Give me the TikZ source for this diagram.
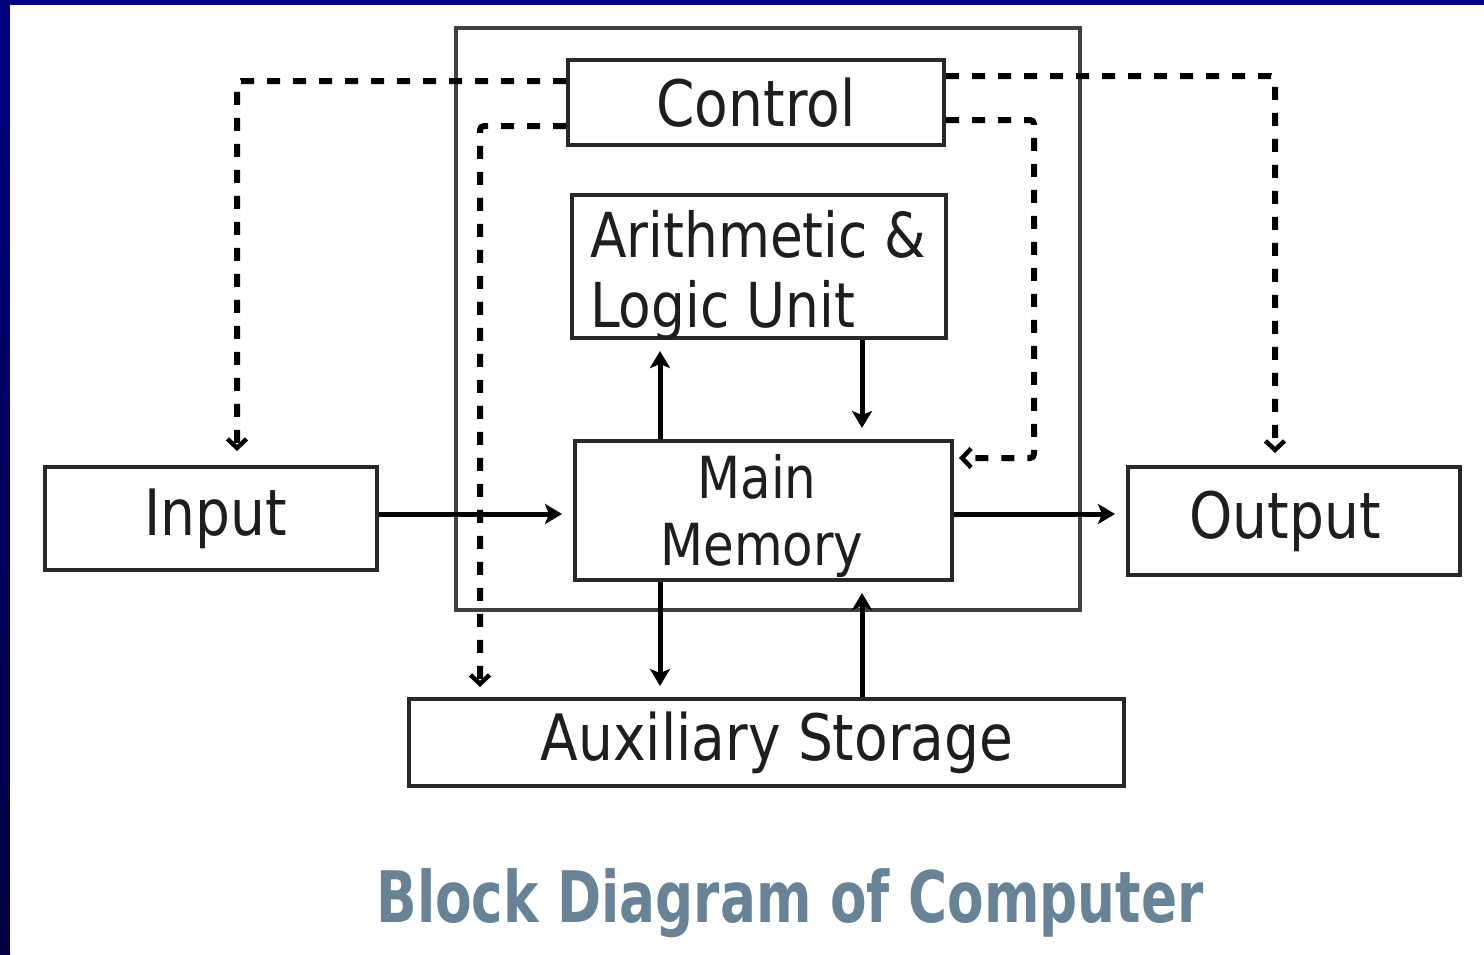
\documentclass[tikz,border=0pt]{standalone}
\usepackage{fontspec}
\setmainfont{DejaVu Sans}[FakeStretch=0.86]
\newfontfamily\titlefont{DejaVu Sans}[FakeStretch=0.75]
\usetikzlibrary{arrows.meta,calc}
\definecolor{navyb}{RGB}{0,0,128}
\definecolor{navyd}{RGB}{0,0,64}
\definecolor{titleblue}{RGB}{104,130,150}
\definecolor{boxline}{RGB}{40,40,40}
\definecolor{txt}{RGB}{30,30,30}
\tikzset{
  blk/.style={draw=boxline, line width=4pt, rectangle, inner sep=0pt, text=txt,
    font=\fontsize{64}{70}\selectfont},
  lbl/.style={inner sep=0pt, text=txt, font=\fontsize{62}{68}\selectfont},
  lblsm/.style={inner sep=0pt, text=txt, font=\fontsize{58}{64}\selectfont},
  arr/.style={draw=black, line width=5pt, -{Stealth[length=17pt,width=20pt,inset=4pt]}, shorten >=11pt},
  ctl/.style={draw=black, line width=6pt, dash pattern=on 13pt off 13pt,
    rounded corners=4pt, -{Straight Barb[length=9pt,width=19pt,line width=4.5pt]}},
}
\begin{document}
\begin{tikzpicture}[x=1pt,y=-1pt]
\useasboundingbox (0,0) rectangle (1484,954);
\fill[navyb] (0,0) rectangle (1484,5);
\shade[top color=navyb, bottom color=navyd] (0,0) rectangle (10,954);
\fill[white] (10,5) rectangle (1484,954);

% CPU outer box
\node[draw=black!75, line width=4pt, rectangle, minimum width=624pt, minimum height=582pt, inner sep=0pt] (cpu) at (768,319) {};

% blocks
\node[blk, minimum width=376pt, minimum height=85pt, fill=white] (ctrl) at (756,102.5) {Control};
\node[blk, minimum width=374pt, minimum height=143pt, fill=white] (alu) at (759,266.5) {};
\node[lbl, anchor=base west] (alu1) at (590,257) {Arithmetic \&};
\node[lbl, anchor=base west] (alu2) at (590,327) {Logic Unit};
\node[blk, minimum width=377pt, minimum height=139pt, fill=white] (mm) at (763.5,510.5) {};
\node[lblsm, anchor=base] (mm1) at (757,498) {Main};
\node[lblsm, anchor=base] (mm2) at (762,565) {Memory};
\node[blk, minimum width=332pt, minimum height=103pt] (inp) at (211,518.5) {\hspace*{10pt}Input};
\node[blk, minimum width=332pt, minimum height=108pt] (out) at (1294,521) {Output\hspace*{18pt}};
\node[blk, minimum width=715pt, minimum height=87pt] (aux) at (766.5,742.5) {\hspace*{21pt}Auxiliary Storage};

% control lines
\draw[ctl, shorten >=14pt] ([yshift=21.5pt]ctrl.west) -| ([xshift=26pt]inp.north);
\draw[ctl, shorten >=10pt] ([yshift=-23.5pt]ctrl.west) -| ([xshift=-286.5pt]aux.north);
\draw[ctl, shorten >=12pt] ([yshift=26.5pt]ctrl.east) -| ([xshift=-19pt]out.north);
\coordinate (bend) at (1034,458);
\draw[ctl, shorten >=5pt] ([yshift=-17.5pt]ctrl.east) -| (bend) -- ([yshift=52.5pt]mm.east);

% data arrows
\draw[arr] ([yshift=4.5pt]inp.east) -- ([yshift=4.5pt]inp.east -| mm.west);
\draw[arr] ([yshift=-3.5pt]mm.east) -- ([yshift=-3.5pt]mm.east -| out.west);
\draw[arr] ([xshift=-103.5pt]mm.north) -- ([xshift=-103.5pt]mm.north |- alu.south);
\draw[arr] ([xshift=103pt]alu.south) -- ([xshift=103pt]alu.south |- mm.north);
\draw[arr] ([xshift=-103.5pt]mm.south) -- ([xshift=-103.5pt]mm.south |- aux.north);
\draw[arr] ([xshift=95.5pt]aux.north) -- ([xshift=95.5pt]aux.north |- mm.south);

% title
\node[inner sep=0pt, anchor=base, text=titleblue, font=\titlefont\bfseries\fontsize{71}{76}\selectfont] (title) at (790,922) {Block Diagram of Computer};
\end{tikzpicture}
\end{document}
